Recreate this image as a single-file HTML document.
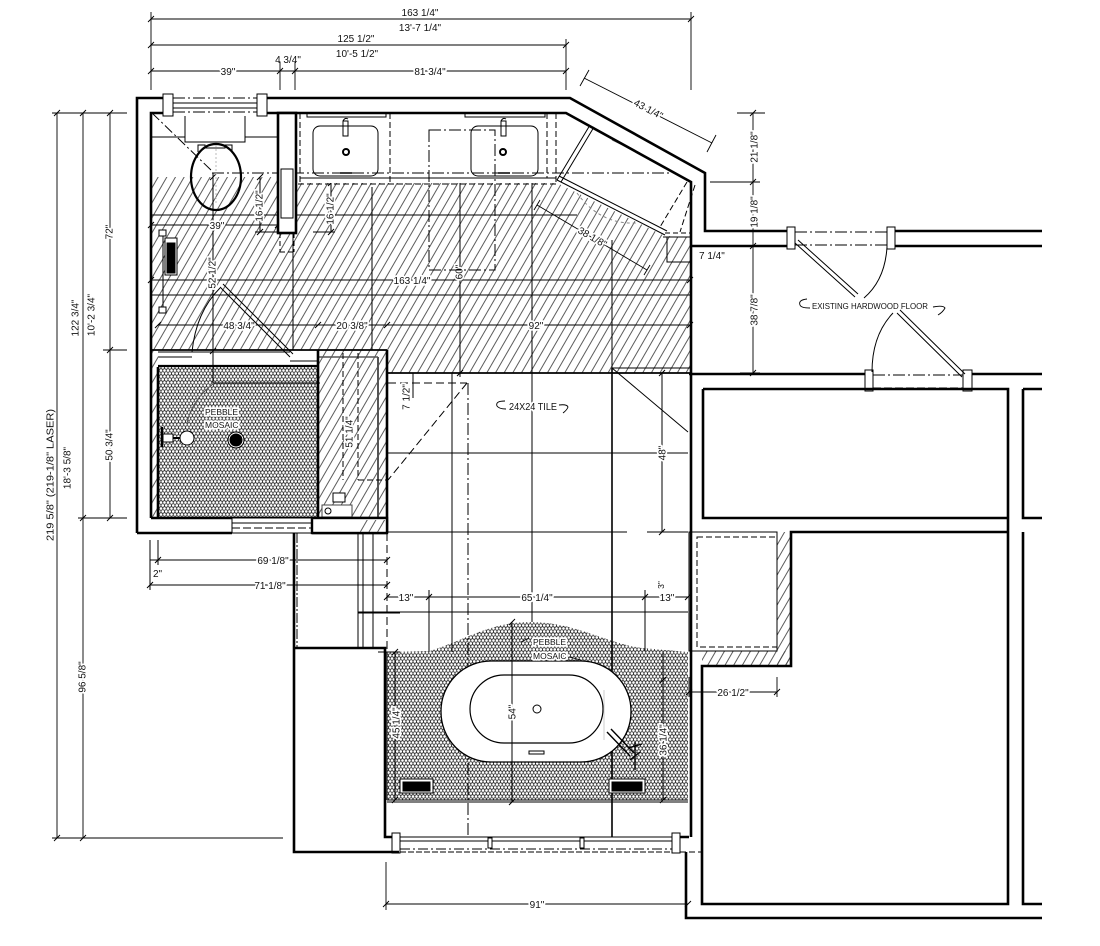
<!DOCTYPE html>
<html><head><meta charset="utf-8"><title>Bathroom plan</title>
<style>
html,body{margin:0;padding:0;background:#fff;width:1100px;height:946px;overflow:hidden}
svg{display:block}
text{font-family:"Liberation Sans",sans-serif;font-size:10px;fill:#111;stroke:none}
.h{paint-order:stroke;stroke:#fff;stroke-width:3.5px;stroke-linejoin:round}
.s{font-size:8.5px}
</style></head><body>
<svg width="1100" height="946" viewBox="0 0 1100 946" xmlns="http://www.w3.org/2000/svg">
<defs>
<pattern id="h" patternUnits="userSpaceOnUse" width="7.5" height="20" patternTransform="rotate(30)">
<line x1="0.5" y1="0" x2="0.5" y2="20" stroke="#4a4a4a" stroke-width="0.9"/>
</pattern>
<pattern id="p" patternUnits="userSpaceOnUse" width="7" height="6">
<rect width="7" height="6" fill="#fff"/>
<g fill="none" stroke="#333" stroke-width="0.75">
<circle cx="1.75" cy="1.5" r="1.7"/><circle cx="5.25" cy="1.5" r="1.7"/>
<circle cx="0" cy="4.5" r="1.7"/><circle cx="3.5" cy="4.5" r="1.7"/><circle cx="7" cy="4.5" r="1.7"/>
</g>
</pattern>
</defs>
<rect width="1100" height="946" fill="#fff"/>

<!-- ===== FILLS ===== -->
<polygon points="151,177 278,177 278,183 557,183 665,236 690,237 690,373 387,373 387,518 151,518" fill="url(#h)"/>
<rect x="777" y="532" width="14" height="134" fill="url(#h)"/>
<rect x="702" y="651" width="89" height="15" fill="url(#h)"/>
<rect x="158" y="350" width="160" height="17" fill="#fff"/>
<rect x="158" y="367" width="160" height="151" fill="url(#p)"/>
<path d="M387,652 L430,651 C465,640 490,622 530,622 C575,622 605,643 642,648 L688,652 L688,800 L387,800 Z" fill="url(#p)"/>

<!-- ===== TOP DIMENSIONS ===== -->
<g stroke="#000" stroke-width="0.9" fill="none">
<line x1="151" y1="19" x2="691" y2="19"/>
<line x1="151" y1="45" x2="566" y2="45"/>
<line x1="151" y1="71" x2="566" y2="71"/>
<line x1="151" y1="12" x2="151" y2="90"/>
<line x1="280" y1="62" x2="280" y2="90"/>
<line x1="295" y1="62" x2="295" y2="90"/>
<line x1="566" y1="39" x2="566" y2="90"/>
<line x1="691" y1="12" x2="691" y2="90"/>
<path d="M148,22l6,-6 M688,22l6,-6 M148,48l6,-6 M563,48l6,-6 M148,74l6,-6 M277,74l6,-6 M292,74l6,-6 M563,74l6,-6"/>
</g>
<text x="420" y="16" text-anchor="middle">163 1/4"</text>
<text x="420" y="31" text-anchor="middle">13'-7 1/4"</text>
<text x="356" y="42" text-anchor="middle">125 1/2"</text>
<text x="357" y="57" text-anchor="middle">10'-5 1/2"</text>
<text x="288" y="63" text-anchor="middle">4 3/4"</text>
<text class="h" x="228" y="75" text-anchor="middle">39"</text>
<text class="h" x="430" y="75" text-anchor="middle">81 3/4"</text>

<!-- ===== LEFT DIMENSIONS ===== -->
<g stroke="#000" stroke-width="0.9" fill="none">
<line x1="57" y1="113" x2="57" y2="838"/>
<line x1="83" y1="113" x2="83" y2="838"/>
<line x1="110" y1="113" x2="110" y2="518"/>
<line x1="52" y1="113" x2="127" y2="113"/>
<line x1="103" y1="350" x2="127" y2="350"/>
<line x1="78" y1="518" x2="127" y2="518"/>
<line x1="52" y1="838" x2="283" y2="838"/>
<path d="M54,116l6,-6 M80,116l6,-6 M107,116l6,-6 M107,353l6,-6 M80,521l6,-6 M107,521l6,-6 M54,841l6,-6 M80,841l6,-6"/>
</g>
<text transform="translate(51,475) rotate(-90)" text-anchor="middle" dominant-baseline="central" textLength="132" lengthAdjust="spacingAndGlyphs">219 5/8" (219-1/8" LASER)</text>
<text transform="translate(68,468) rotate(-90)" text-anchor="middle" dominant-baseline="central">18'-3 5/8"</text>
<text transform="translate(76,318) rotate(-90)" text-anchor="middle" dominant-baseline="central">122 3/4"</text>
<text transform="translate(92,315) rotate(-90)" text-anchor="middle" dominant-baseline="central">10'-2 3/4"</text>
<text class="h" transform="translate(110,232) rotate(-90)" text-anchor="middle" dominant-baseline="central">72"</text>
<text class="h" transform="translate(110,445) rotate(-90)" text-anchor="middle" dominant-baseline="central">50 3/4"</text>
<text class="h" transform="translate(83,677) rotate(-90)" text-anchor="middle" dominant-baseline="central">96 5/8"</text>

<!-- ===== RIGHT DIMENSIONS ===== -->
<g stroke="#000" stroke-width="0.9" fill="none">
<line x1="753" y1="113" x2="753" y2="373"/>
<line x1="737" y1="113" x2="765" y2="113"/>
<line x1="710" y1="182" x2="760" y2="182"/>
<line x1="745" y1="246" x2="760" y2="246"/>
<line x1="740" y1="373" x2="760" y2="373"/>
<path d="M750,116l6,-6 M750,185l6,-6 M750,249l6,-6 M750,376l6,-6"/>
</g>
<text class="h" transform="translate(755,147) rotate(-90)" text-anchor="middle" dominant-baseline="central">21 1/8"</text>
<text class="h" transform="translate(755,212) rotate(-90)" text-anchor="middle" dominant-baseline="central">19 1/8"</text>
<text class="h" transform="translate(755,310) rotate(-90)" text-anchor="middle" dominant-baseline="central">38 7/8"</text>

<!-- ===== GRID / THIN LINES IN HATCHED FLOOR ===== -->
<g stroke="#000" stroke-width="1" fill="none">
<line x1="151" y1="215" x2="577" y2="215"/>
<line x1="151" y1="225" x2="278" y2="225"/>
<line x1="151" y1="280" x2="690" y2="280"/>
<line x1="151" y1="295" x2="690" y2="295"/>
<line x1="158" y1="325" x2="690" y2="325"/>
<line x1="213" y1="173" x2="213" y2="383"/>
<line x1="293" y1="233" x2="293" y2="350"/>
<line x1="372" y1="187" x2="372" y2="350"/>
<line x1="460" y1="174" x2="460" y2="377"/>
<line x1="532" y1="183" x2="532" y2="622"/>
<line x1="612" y1="240" x2="612" y2="373"/>
<line x1="260" y1="177" x2="260" y2="232"/>
<line x1="255" y1="232" x2="278" y2="232"/>
<line x1="331" y1="183" x2="331" y2="232"/>
<line x1="313" y1="232" x2="335" y2="232"/>
<line x1="213" y1="383" x2="320" y2="383"/>
<path d="M148,228l6,-6 M275,228l6,-6 M257,180l6,-6 M257,235l6,-6 M328,186l6,-6 M328,235l6,-6 M210,180l6,-6 M210,354l6,-6 M148,283l6,-6 M687,283l6,-6 M155,328l6,-6 M315,328l6,-6 M384,328l6,-6 M687,328l6,-6 M457,376l6,-6"/>
</g>
<text class="h" x="217" y="229" text-anchor="middle">39"</text>
<text class="h" transform="translate(260,206) rotate(-90)" text-anchor="middle" dominant-baseline="central">16 1/2"</text>
<text class="h" transform="translate(331,209) rotate(-90)" text-anchor="middle" dominant-baseline="central">16 1/2"</text>
<text class="h" transform="translate(213,273) rotate(-90)" text-anchor="middle" dominant-baseline="central">52 1/2"</text>
<text class="h" x="412" y="284" text-anchor="middle">163 1/4"</text>
<text class="h" transform="translate(460,272) rotate(-90)" text-anchor="middle" dominant-baseline="central">60"</text>
<text class="h" x="536" y="329" text-anchor="middle">92"</text>
<text class="h" x="239" y="329" text-anchor="middle">48 3/4"</text>
<text class="h" x="352" y="329" text-anchor="middle">20 3/8"</text>

<!-- ===== VANITY ===== -->
<g stroke="#000" stroke-width="1" fill="none">
<rect x="296" y="113" width="261" height="70" fill="#fff" stroke="none"/>
<line x1="300" y1="178" x2="556" y2="178"/>
<line x1="298" y1="184" x2="557" y2="184" stroke-dasharray="6,3"/>
<line x1="300" y1="113" x2="300" y2="184" stroke-dasharray="6,3"/>
<line x1="390" y1="113" x2="390" y2="184" stroke-dasharray="6,3"/>
<line x1="547" y1="113" x2="547" y2="178" stroke-dasharray="6,3"/>
<line x1="556" y1="113" x2="556" y2="184" stroke-dasharray="6,3"/>
<rect x="307" y="113" width="79" height="4"/>
<rect x="465" y="113" width="80" height="4"/>
<rect x="313" y="126" width="65" height="50" rx="7"/>
<rect x="471" y="126" width="67" height="50" rx="7"/>
<rect x="343" y="121" width="5" height="15"/>
<rect x="501" y="121" width="5" height="15"/>
<path d="M343,121 q2,-4 5,-2 M501,121 q2,-4 5,-2"/>
<circle cx="346" cy="152" r="3" stroke-width="2"/>
<circle cx="503" cy="152" r="3" stroke-width="2"/>
<line x1="340" y1="173" x2="352" y2="173" stroke-width="1.5"/>
<line x1="498" y1="173" x2="510" y2="173" stroke-width="1.5"/>
<line x1="212" y1="173" x2="670" y2="173" stroke-dasharray="12,3,2,3"/>
<rect x="429" y="130" width="66" height="140" stroke-dasharray="12,3,2,3"/>
</g>

<!-- ===== DIAGONAL CABINET ===== -->
<g stroke="#000" stroke-width="1" fill="none">
<path d="M557,180 L665,235 M559,176 L667,231"/>
<path d="M590,125 L557,180 M594,127 L561,182"/>
<path d="M695,185 L680,232 M687,182 L660,227" stroke-dasharray="6,3"/>
<line x1="665" y1="233" x2="690" y2="233" stroke-dasharray="5,3"/>
<line x1="663" y1="237" x2="690" y2="237"/>
<line x1="612" y1="140" x2="640" y2="153" stroke="#888"/>
<path d="M667,237 V262 H690"/>
<path d="M577,193 Q600,225 637,223" stroke="#888" stroke-dasharray="3,3"/>
<!-- 38 1/8 -->
<line x1="537" y1="205" x2="647" y2="270" stroke-width="0.9"/>
<path d="M534,210l6,-10 M644,275l6,-10" stroke-width="0.9"/>
<!-- 43 1/4 -->
<line x1="584" y1="78" x2="712" y2="143" stroke-width="0.9"/>
<path d="M580,86 L589,70 M707,152 L716,135" stroke-width="0.9"/>
</g>
<text class="h" transform="translate(592,238) rotate(30)" text-anchor="middle" dominant-baseline="central">38 1/8"</text>
<text class="h" transform="translate(648,110) rotate(28)" text-anchor="middle" dominant-baseline="central">43 1/4"</text>
<text x="699" y="259">7 1/4"</text>

<!-- ===== TOILET ===== -->
<g stroke="#000" stroke-width="1" fill="none">
<line x1="151" y1="137" x2="278" y2="137"/>
<line x1="152" y1="113" x2="213" y2="172" stroke-dasharray="10,3,2,3"/>
<rect x="185" y="113" width="60" height="29" fill="#fff"/>
<path d="M198,152 V145 H205 V148 H225 V145 H232 V152" fill="#fff"/>
<ellipse cx="216" cy="177" rx="25" ry="33" stroke-width="2.2"/>
<line x1="216" y1="145" x2="216" y2="205" stroke="#bbb" stroke-dasharray="2,2"/>
</g>
<!-- towel warmer -->
<g stroke="#000" stroke-width="1" fill="#fff">
<line x1="163" y1="233" x2="163" y2="310"/>
<rect x="159" y="230" width="7" height="6"/>
<rect x="159" y="307" width="7" height="6"/>
<rect x="165" y="238" width="12" height="37"/>
<rect x="167" y="243" width="8" height="30" fill="#000"/>
</g>

<!-- ===== SHOWER ===== -->
<g stroke="#000" stroke-width="1" fill="none">
<line x1="158" y1="352" x2="290" y2="352"/>
<line x1="158" y1="357" x2="192" y2="357"/>
<line x1="290" y1="361" x2="318" y2="361"/>
<line x1="158" y1="366" x2="318" y2="366" stroke-width="2.2"/>
<path d="M220,287 L290,357 M223,284 L293,354"/>
<path d="M220,288 Q196,312 192,352"/>
<path d="M213,384 Q192,400 187,423" stroke="#555"/>
<line x1="162" y1="427" x2="162" y2="447" stroke-width="2.5"/>
<rect x="163" y="434" width="10" height="8" fill="#fff"/>
<line x1="173" y1="438" x2="180" y2="438" stroke-width="2"/>
<circle cx="187" cy="438" r="7" fill="#fff"/>
<circle cx="236" cy="440" r="8" fill="#fff"/>
<circle cx="236" cy="440" r="6" fill="#000"/>
<!-- bench -->
<line x1="378" y1="357" x2="378" y2="518" stroke="#555" stroke-width="2"/>
<line x1="318" y1="357" x2="378" y2="357" stroke="#555" stroke-width="1.5"/>
<line x1="343" y1="353" x2="343" y2="480" stroke-dasharray="6,3"/>
<line x1="358" y1="353" x2="358" y2="480" stroke-dasharray="6,3"/>
<line x1="358" y1="480" x2="387" y2="480" stroke-dasharray="6,3"/>
<rect x="333" y="493" width="12" height="9" fill="#fff"/>
<rect x="322" y="505" width="30" height="12" fill="#fff" stroke="#444"/>
<circle cx="328" cy="511" r="3"/>
</g>
<text class="h s" x="205" y="415">PEBBLE</text>
<text class="h s" x="205" y="428">MOSAIC</text>
<text class="h" transform="translate(350,432) rotate(-90)" text-anchor="middle" dominant-baseline="central">51 1/4"</text>

<!-- ===== HALL / TILE AREA ===== -->
<g stroke="#000" stroke-width="1" fill="none">
<line x1="387" y1="373" x2="690" y2="373" stroke-width="1.8"/>
<line x1="387" y1="453" x2="688" y2="453"/>
<line x1="387" y1="532" x2="627" y2="532"/>
<line x1="647" y1="532" x2="688" y2="532"/>
<line x1="358" y1="612" x2="688" y2="612"/>
<line x1="452" y1="373" x2="452" y2="652"/>
<line x1="468" y1="383" x2="468" y2="837" stroke-dasharray="12,3,2,3"/>
<line x1="612" y1="368" x2="612" y2="837" stroke-width="1.6"/>
<line x1="662" y1="373" x2="662" y2="532"/>
<line x1="388" y1="383" x2="467" y2="383" stroke-dasharray="8,4"/>
<line x1="467" y1="383" x2="388" y2="480" stroke-dasharray="8,4"/>
<line x1="612" y1="368" x2="688" y2="432"/>
<line x1="612" y1="368" x2="690" y2="368"/>
<line x1="387" y1="533" x2="387" y2="652" stroke-dasharray="8,4"/>
<line x1="413" y1="373" x2="413" y2="398"/>
<!-- 13 / 65 1/4 / 13 -->
<line x1="387" y1="597" x2="688" y2="597"/>
<line x1="429" y1="590" x2="429" y2="651"/>
<line x1="645" y1="590" x2="645" y2="651"/>
<path d="M384,600l6,-6 M426,600l6,-6 M642,600l6,-6 M685,600l6,-6 M659,376l6,-6 M659,535l6,-6"/>
<!-- 69 1/8, 71 1/8 -->
<line x1="150" y1="560" x2="387" y2="560"/>
<line x1="150" y1="585" x2="387" y2="585"/>
<line x1="150" y1="540" x2="150" y2="590"/>
<line x1="158" y1="540" x2="158" y2="565"/>
<path d="M155,563l6,-6 M384,563l6,-6 M147,588l6,-6 M384,588l6,-6"/>
</g>
<text class="h" x="533" y="410" text-anchor="middle" textLength="48" lengthAdjust="spacingAndGlyphs">24X24 TILE</text>
<path d="M505,401 q-10,0 -8,5 q2,3 9,3 M559,405 q8,-1 9,2 q-1,3 -5,6" stroke="#000" fill="none" stroke-width="0.9"/>
<text class="h" transform="translate(407,397) rotate(-90)" text-anchor="middle" dominant-baseline="central">7 1/2"</text>
<text class="h" transform="translate(663,453) rotate(-90)" text-anchor="middle" dominant-baseline="central">48"</text>
<text class="h" x="406" y="601" text-anchor="middle">13"</text>
<text class="h" x="537" y="601" text-anchor="middle">65 1/4"</text>
<text class="h" x="667" y="601" text-anchor="middle">13"</text>
<text class="h s" transform="translate(661,585) rotate(-90)" text-anchor="middle" dominant-baseline="central">3"</text>
<text class="h" x="273" y="564" text-anchor="middle">69 1/8"</text>
<text class="h" x="270" y="589" text-anchor="middle">71 1/8"</text>
<text x="153" y="577">2"</text>

<!-- ===== CLOSET / LEFT ROOM ===== -->
<g stroke="#000" stroke-width="1" fill="none">
<line x1="297" y1="533" x2="297" y2="648" stroke-dasharray="10,2,2,2"/>
<line x1="358" y1="533" x2="358" y2="648"/>
<line x1="363" y1="533" x2="363" y2="648"/>
<line x1="373" y1="533" x2="373" y2="648"/>
<line x1="358" y1="613" x2="400" y2="613"/>
</g>

<!-- ===== TUB ===== -->
<g stroke="#000" stroke-width="1" fill="none">
<line x1="387" y1="652" x2="387" y2="800"/>
<line x1="387" y1="800" x2="688" y2="800"/>
<line x1="387" y1="802" x2="688" y2="802"/>
<rect x="441" y="661" width="190" height="101" rx="50" fill="#fff" stroke-width="1.3"/>
<rect x="470" y="675" width="133" height="68" rx="34" stroke-width="1.2"/>
<line x1="604" y1="690" x2="604" y2="740" stroke="#ccc"/>
<circle cx="537" cy="709" r="4"/>
<rect x="529" y="751" width="15" height="3"/>
<path d="M607,732 L630,756 M611,729 L634,753" stroke-width="1.4"/>
<path d="M635,742 V770 M628,748 L642,744 M630,760 L640,752" stroke-width="1.4"/>
<line x1="512" y1="622" x2="512" y2="802"/>
<line x1="395" y1="652" x2="395" y2="800"/>
<line x1="663" y1="652" x2="663" y2="800"/>
<path d="M509,625l6,-6 M509,805l6,-6 M392,655l6,-6 M392,803l6,-6 M660,683l6,-6 M660,803l6,-6"/>
<line x1="378" y1="652" x2="400" y2="652"/>
<rect x="400" y="779" width="33" height="14" fill="#fff"/>
<rect x="403" y="782" width="27" height="9" fill="#000"/>
<rect x="609" y="779" width="36" height="14" fill="#fff"/>
<rect x="612" y="782" width="30" height="9" fill="#000"/>
<path d="M521,642 l8,-4 M569,657 l12,3" stroke-width="0.8"/>
</g>
<text class="h s" x="533" y="645">PEBBLE</text>
<text class="h s" x="533" y="659">MOSAIC</text>
<text class="h" transform="translate(513,712) rotate(-90)" text-anchor="middle" dominant-baseline="central">54"</text>
<text class="h" transform="translate(397,723) rotate(-90)" text-anchor="middle" dominant-baseline="central">45 1/4"</text>
<text class="h" transform="translate(664,740) rotate(-90)" text-anchor="middle" dominant-baseline="central">36 1/4"</text>

<!-- tub window -->
<g stroke="#000" stroke-width="1" fill="none">
<rect x="392" y="833" width="8" height="20" fill="#fff"/>
<rect x="672" y="833" width="8" height="20" fill="#fff"/>
<line x1="400" y1="837" x2="672" y2="837"/>
<line x1="400" y1="841" x2="672" y2="841"/>
<line x1="400" y1="849" x2="672" y2="849" stroke-dasharray="10,3,2,3"/>
<line x1="400" y1="852" x2="672" y2="852" stroke-dasharray="6,2"/>
<rect x="488" y="838" width="4" height="10" fill="#fff"/>
<rect x="580" y="838" width="4" height="10" fill="#fff"/>
</g>

<!-- bottom dims -->
<g stroke="#000" stroke-width="0.9" fill="none">
<line x1="386" y1="904" x2="688" y2="904"/>
<line x1="386" y1="862" x2="386" y2="910"/>
<path d="M383,907l6,-6 M685,907l6,-6"/>
<line x1="689" y1="692" x2="777" y2="692"/>
<line x1="777" y1="677" x2="777" y2="697"/>
<line x1="689" y1="677" x2="689" y2="697"/>
<path d="M686,695l6,-6 M774,695l6,-6"/>
</g>
<text class="h" x="537" y="908" text-anchor="middle">91"</text>
<text class="h" x="733" y="696" text-anchor="middle">26 1/2"</text>

<!-- ===== RIGHT ROOMS / HALL ===== -->
<g stroke="#000" stroke-width="1" fill="none">
<!-- upper door -->
<rect x="787" y="227" width="8" height="22" fill="#fff"/>
<rect x="887" y="227" width="8" height="22" fill="#fff"/>
<line x1="795" y1="232" x2="887" y2="232" stroke-dasharray="12,3,2,3"/>
<line x1="795" y1="245" x2="887" y2="245" stroke-dasharray="12,3,2,3"/>
<path d="M795,243 L855,297 M798,240 L858,294"/>
<path d="M887,247 Q885,280 864,298"/>
<!-- lower door -->
<rect x="865" y="370" width="8" height="21" fill="#fff"/>
<rect x="963" y="370" width="9" height="21" fill="#fff"/>
<line x1="873" y1="375" x2="963" y2="375" stroke-dasharray="12,3,2,3"/>
<line x1="873" y1="388" x2="963" y2="388" stroke-dasharray="8,3"/>
<path d="M897,313 L962,377 M900,310 L965,374"/>
<path d="M893,313 Q872,335 872,372"/>
<!-- cabinet -->
<rect x="689" y="532" width="88" height="119"/>
<rect x="697" y="537" width="80" height="110" stroke-dasharray="6,3"/>
<line x1="680" y1="852" x2="701" y2="852" stroke-dasharray="6,3"/>
<line x1="680" y1="837" x2="689" y2="837"/>
</g>
<text x="812" y="309" class="s" textLength="116" lengthAdjust="spacingAndGlyphs">EXISTING HARDWOOD FLOOR</text>
<path d="M807,299 q-9,1 -7,6 q1,3 10,3 M933,307 q10,-2 12,1 q-2,4 -7,7" stroke="#000" fill="none" stroke-width="0.9"/>

<!-- ===== TOP WINDOW (toilet) ===== -->
<g stroke="#000" stroke-width="1" fill="none">
<rect x="163" y="94" width="104" height="22" fill="#fff" stroke="none"/>
<rect x="163" y="94" width="10" height="22" fill="#fff"/>
<rect x="257" y="94" width="10" height="22" fill="#fff"/>
<line x1="173" y1="98" x2="257" y2="98" stroke-dasharray="12,3,2,3"/>
<line x1="173" y1="103" x2="257" y2="103"/>
<line x1="173" y1="108" x2="257" y2="108"/>
<line x1="173" y1="112" x2="257" y2="112" stroke-dasharray="12,3,2,3"/>
</g>

<!-- ===== THICK WALLS ===== -->
<g stroke="#000" stroke-width="2.6" fill="none" stroke-linejoin="miter">
<path d="M137,533 V98 H163 M267,98 H570 L705,173 V231 H787 M895,231 H1042"/>
<path d="M151,518 V113 H163 M267,113 H566 L691,182 V837"/>
<path d="M691,246 H787 M895,246 H1042"/>
<path d="M689,374 H865 M972,374 H1042"/>
<path d="M703,389 H1008 V904 H702 V666 H791 V532 H1008"/>
<path d="M703,389 V518 H1008"/>
<path d="M1023,389 H1042 M1023,389 V518 H1042 M1023,532 V904 H1042"/>
<path d="M686,852 V918 H1042"/>
<rect x="278" y="113" width="18" height="120" fill="#fff"/>
<path d="M151,518 H387"/>
<path d="M137,533 H232 M312,533 H387"/>
<path d="M387,350 V533"/>
<path d="M318,350 V518"/>
<path d="M158,367 V518"/>
<path d="M294,533 V852 H399"/>
<path d="M294,648 H385 V837 H392 M680,837 H689"/>
</g>
<g stroke="#000" stroke-width="1" fill="none">
<rect x="281" y="169" width="12" height="49"/>
<line x1="280" y1="233" x2="280" y2="252" stroke-dasharray="5,3"/>
<line x1="294" y1="233" x2="294" y2="252" stroke-dasharray="5,3"/>
<line x1="280" y1="252" x2="294" y2="252" stroke-dasharray="5,3"/>
<line x1="151" y1="350" x2="387" y2="350" stroke-width="1.8"/>
<rect x="232" y="518" width="80" height="15" fill="#fff"/>
<line x1="232" y1="523" x2="312" y2="523"/>
<line x1="232" y1="528" x2="312" y2="528" stroke-dasharray="8,3"/>
<rect x="312" y="518" width="75" height="15" fill="#fff" stroke-width="2.4"/>
</g>
<rect x="360" y="520" width="26" height="12" fill="url(#h)"/>
</svg>
</body></html>
